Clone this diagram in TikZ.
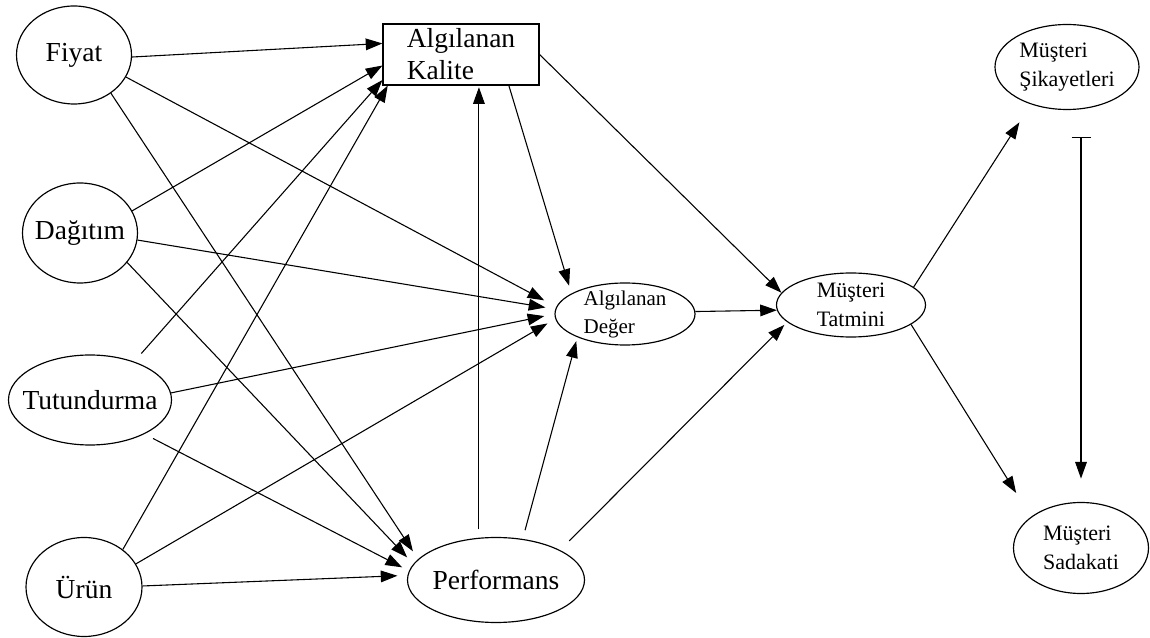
\documentclass[tikz,border=0pt]{standalone}
\usepackage{fontspec}
\setmainfont{Liberation Serif}
\usetikzlibrary{arrows.meta,shapes.geometric}
\tikzset{
  factor/.style={draw,ellipse,inner sep=0pt,line width=0.7pt},
  box/.style={draw,rectangle,inner sep=0pt,line width=0.7pt,align=left,
    minimum width=93.6pt,minimum height=36.6pt,font=\fontsize{16.5}{19.2}\selectfont},
  big/.style={font=\fontsize{16.5}{19.2}\selectfont},
  small/.style={font=\fontsize{13.2}{17.4}\selectfont,align=left},
  tiny/.style={font=\fontsize{12.6}{16.8}\selectfont,align=left},
  flow/.style={-{Triangle[length=10pt,width=7pt]},line width=0.65pt},
  stopflow/.style={{Bar[width=11.4pt]}-{Triangle[length=10pt,width=7pt]},line width=0.65pt},
}

\begin{document}
\begin{tikzpicture}[x=0.6pt,y=-0.6pt]
  \useasboundingbox (0,0) rectangle (1150,638);

  % sources
  \node[factor,minimum width=69pt,minimum height=58.8pt,label={[big]center:Fiyat}] (fiyat) at (74,55) {};
  \node[factor,minimum width=69pt,minimum height=60pt,label={[big]center:Dağıtım}] (dagitim) at (80,233) {};
  \node[factor,minimum width=97.8pt,minimum height=54pt,label={[big]center:Tutundurma}] (tutundurma) at (90,400) {};
  \node[factor,minimum width=69.6pt,minimum height=59.4pt,label={[big]center:Ürün}] (urun) at (84,587) {};

  % middle
  \node[box] (kalite) at (461,54.5) {Algılanan\\Kalite};
  \node[factor,minimum width=84pt,minimum height=37.2pt,label={[tiny]center:{Algılanan\\Değer}}] (deger) at (625,314) {};
  \node[factor,minimum width=106.2pt,minimum height=51pt,label={[big]center:Performans}] (performans) at (496,580) {};

  % outcomes
  \node[factor,minimum width=89.4pt,minimum height=38.4pt,label={[small]center:{Müşteri\\Tatmini}}] (tatmini) at (851,305) {};
  \node[factor,minimum width=86.4pt,minimum height=51pt,label={[small]center:{Müşteri\\Şikayetleri}}] (sikayet) at (1067,67) {};
  \node[factor,minimum width=81pt,minimum height=54.6pt,label={[small]center:{Müşteri\\Sadakati}}] (sadakat) at (1081,548) {};

  % into Algılanan Kalite
  \draw[flow] (fiyat.-2) -- (kalite.172);
  \draw[flow] (dagitim.23) -- (kalite.188);
  \draw[flow,shorten <=6.5pt] (tutundurma.41) -- (kalite.198);
  \draw[flow] (urun.44) -- (kalite.203);

  % into Algılanan Değer
  \draw[flow,shorten >=8.2pt] (fiyat.-23) -- (deger.174);
  \draw[flow,shorten >=6pt] (dagitim.-7) -- (deger.176);
  \draw[flow,shorten >=6.2pt] (tutundurma.5) -- (deger.180);
  \draw[flow,shorten >=5.4pt] (urun.24) -- (deger.184);

  % into Performans
  \draw[flow,shorten >=5.6pt] (fiyat.-46) -- (performans.165);
  \draw[flow,shorten >=5.4pt] (dagitim.-32) -- (performans.169);
  \draw[flow,shorten <=5.8pt,shorten >=4.6pt] (tutundurma.-32) -- (performans.174);
  \draw[flow,shorten >=6pt] (urun.1) -- (performans.177);

  \draw[flow,shorten <=5pt,shorten >=1pt] (performans.112) -- (kalite.south -| performans.112);
  \draw[flow,shorten <=5.4pt,shorten >=2.4pt] (performans.57) -- (deger.206);
  \draw[flow,shorten <=7.8pt,shorten >=2.4pt] (performans.25) -- (tatmini.195);
  \draw[flow,shorten >=4.8pt] (kalite.-33) -- (deger.159);
  \draw[flow] (kalite.east) -- (tatmini.170);
  \draw[flow] (deger.2) -- (tatmini.184);

  \draw[flow,shorten >=12.8pt] (tatmini.16) -- (sikayet.226);
  \draw[flow,shorten >=16.8pt] (tatmini.-18) -- (sadakat.148);
  \draw[stopflow,shorten <=16.4pt,shorten >=14pt] (sikayet.south -| sadakat.north) -- (sadakat.north);
\end{tikzpicture}
\end{document}
